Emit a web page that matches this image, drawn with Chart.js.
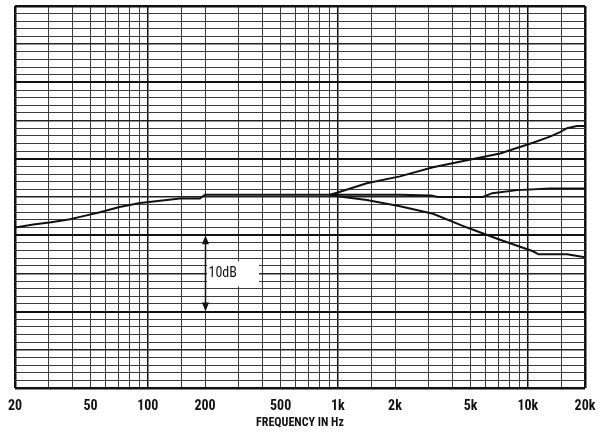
<!DOCTYPE html>
<html>
<head>
<meta charset="utf-8">
<script src="https://cdn.jsdelivr.net/npm/chart.js@4"></script>
<style>
  html, body { margin: 0; padding: 0; background: #fff; }
  canvas { display: block; }
</style>
</head>
<body>
<canvas id="resp" width="604" height="433"></canvas>
<script>
// frequency grid of the log paper and the labelled ones
const gridFreqs = [20, 30, 40, 50, 60, 70, 80, 90, 100, 150, 200, 300, 400, 500, 600, 700, 800, 900,
    1000, 1500, 2000, 3000, 4000, 5000, 6000, 7000, 8000, 9000, 10000, 15000, 20000];
const tickFreqs = [20, 50, 100, 200, 500, 1000, 2000, 5000, 10000, 20000];
const tickLabels = ['20', '50', '100', '200', '500', '1k', '2k', '5k', '10k', '20k'];

// common part of the response (dB, arbitrary reference)
const baseFreq = [20, 25, 31, 39, 44, 56, 71, 91, 116, 148, 188, 200, 400, 700, 910];
const baseDb = [21.0, 21.4, 21.7, 22.1, 22.4, 23.0, 23.7, 24.2, 24.5, 24.8, 24.8, 25.3, 25.3, 25.3, 25.3];

// treble control: boost, flat, cut
const boostFreq = [910, 1000, 1420, 2125, 3170, 4790, 7140, 10640, 13080, 14770, 16080, 18160, 20000];
const boostDb = [25.3, 25.6, 26.8, 27.7, 28.9, 29.8, 30.7, 32.1, 32.9, 33.5, 34.0, 34.3, 34.3];
const flatFreq = [910, 2125, 3100, 3350, 5800, 6500, 8800, 13080, 20000];
const flatDb = [25.3, 25.3, 25.2, 25.0, 25.0, 25.5, 25.9, 26.1, 26.1];
const cutFreq = [910, 1000, 1420, 2125, 3170, 4790, 7140, 10640, 11400, 16080, 20000];
const cutDb = [25.3, 25.1, 24.6, 23.8, 22.8, 21.0, 19.4, 17.9, 17.5, 17.5, 17.1];

// 10 dB scale marker
const markerFreq = 200;
const markerDb = [10, 20];
const markerText = '10dB';

const FONT = "'Roboto Condensed', 'DejaVu Sans Condensed', 'Liberation Sans', sans-serif";

const toPoints = (xs, ys) => xs.map((f, i) => ({ x: f, y: ys[i] }));

const curve = (xs, ys) => ({
    data: toPoints(xs, ys),
    borderColor: '#111',
    borderWidth: 2,
    pointRadius: 0,
    tension: 0,
    fill: false
});

const scaleMarker = {
    id: 'scaleMarker',
    afterDatasetsDraw(chart) {
        const ctx = chart.ctx;
        const px = Math.round(chart.scales.x.getPixelForValue(markerFreq)) + 0.5;
        const yTop = chart.scales.y.getPixelForValue(markerDb[1]);
        const yBot = chart.scales.y.getPixelForValue(markerDb[0]);
        const mid = (yTop + yBot) / 2;
        ctx.save();
        // white patch behind the label
        ctx.fillStyle = '#fff';
        ctx.fillRect(px + 1.5, mid - 12, 52, 25);
        ctx.strokeStyle = '#111';
        ctx.fillStyle = '#111';
        ctx.lineWidth = 1.5;
        ctx.beginPath();
        ctx.moveTo(px, yTop + 6);
        ctx.lineTo(px, yBot - 6);
        ctx.stroke();
        ctx.beginPath();
        ctx.moveTo(px, yTop);
        ctx.lineTo(px - 3.5, yTop + 9);
        ctx.lineTo(px + 3.5, yTop + 9);
        ctx.closePath();
        ctx.fill();
        ctx.beginPath();
        ctx.moveTo(px, yBot);
        ctx.lineTo(px - 3.5, yBot - 9);
        ctx.lineTo(px + 3.5, yBot - 9);
        ctx.closePath();
        ctx.fill();
        ctx.font = '14px ' + FONT;
        ctx.textBaseline = 'middle';
        ctx.textAlign = 'left';
        ctx.fillText(markerText, px + 3, mid);
        ctx.restore();
    }
};

const hLine = v => (v === 0 || v === 50) ? 2.5 : (v % 10 === 0 ? 2 : (v % 5 === 0 ? 1.5 : 1));
const hColor = v => (v % 10 === 0) ? '#111' : (v % 5 === 0 ? '#222' : '#3c3c3c');
const isDecade = v => [100, 1000, 10000].includes(v);

new Chart(document.getElementById('resp'), {
    type: 'line',
    data: {
        datasets: [
            curve(baseFreq, baseDb),
            curve(boostFreq, boostDb),
            curve(flatFreq, flatDb),
            curve(cutFreq, cutDb)
        ]
    },
    options: {
        responsive: false,
        animation: false,
        devicePixelRatio: 1,
        layout: { padding: { left: 15, right: 19, top: 6, bottom: 0 } },
        plugins: { legend: { display: false }, tooltip: { enabled: false } },
        scales: {
            x: {
                type: 'logarithmic',
                min: 20,
                max: 20000,
                afterBuildTicks: axis => { axis.ticks = gridFreqs.map(v => ({ value: v })); },
                afterFit: axis => {
                    // labels may hang over the edges, keep the paper where it is
                    axis.paddingLeft = 0;
                    axis.paddingRight = 0;
                    axis.height = 45;
                },
                border: { display: false },
                grid: {
                    drawTicks: false,
                    color: ctx => (isDecade(ctx.tick.value) || ctx.tick.value === 20 || ctx.tick.value === 20000) ? '#111' : '#3c3c3c',
                    lineWidth: ctx => (ctx.tick.value === 20 || ctx.tick.value === 20000) ? 2.5 : (isDecade(ctx.tick.value) ? 1.5 : 1)
                },
                ticks: {
                    autoSkip: false,
                    maxRotation: 0,
                    minRotation: 0,
                    padding: 10,
                    color: '#111',
                    font: { family: FONT, size: 14, weight: 'bold' },
                    callback: v => {
                        const i = tickFreqs.indexOf(v);
                        return i >= 0 ? tickLabels[i] : '';
                    }
                },
                title: {
                    display: true,
                    text: 'FREQUENCY IN Hz',
                    color: '#111',
                    padding: { top: 2, bottom: 3 },
                    font: { family: FONT, size: 12, weight: 'bold' }
                }
            },
            y: {
                type: 'linear',
                min: 0,
                max: 50,
                border: { display: false },
                grid: {
                    drawTicks: false,
                    color: ctx => hColor(ctx.tick.value),
                    lineWidth: ctx => hLine(ctx.tick.value)
                },
                ticks: { display: false, stepSize: 1 }
            }
        }
    },
    plugins: [scaleMarker]
});
</script>
</body>
</html>
